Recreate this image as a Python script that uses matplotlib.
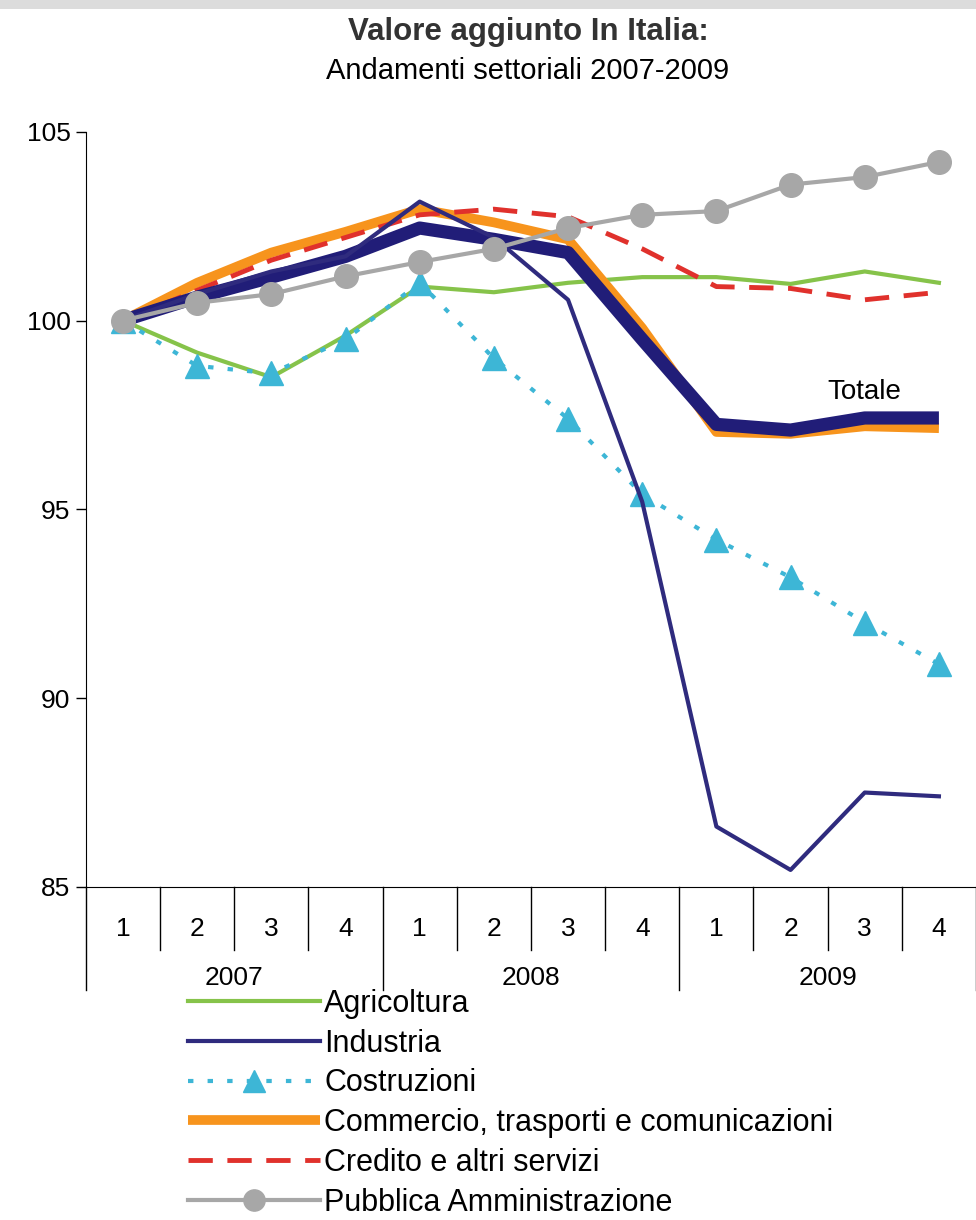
import matplotlib.pyplot as plt
import matplotlib.transforms as mtransforms

quarters = ['1', '2', '3', '4'] * 3
years = ['2007', '2008', '2009']

agricoltura = [100.0, 99.15, 98.5, 99.6, 100.9, 100.75, 101.0, 101.15, 101.15, 100.97, 101.3, 101.0]
industria = [100.0, 100.7, 101.3, 101.7, 103.15, 102.2, 100.55, 95.2, 86.6, 85.45, 87.5, 87.4]
costruzioni = [100.0, 98.8, 98.6, 99.5, 101.0, 99.0, 97.4, 95.4, 94.2, 93.2, 92.0, 90.9]
commercio = [100.0, 101.0, 101.8, 102.35, 102.95, 102.6, 102.15, 99.8, 97.05, 97.0, 97.2, 97.15]
credito = [100.0, 100.8, 101.6, 102.2, 102.8, 102.95, 102.75, 101.9, 100.9, 100.85, 100.55, 100.75]
pubblica = [100.0, 100.47, 100.7, 101.17, 101.55, 101.9, 102.45, 102.8, 102.9, 103.6, 103.8, 104.2]
totale = [100.0, 100.62, 101.15, 101.7, 102.45, 102.15, 101.8, 99.5, 97.25, 97.1, 97.42, 97.42]

plt.rcParams['font.family'] = ['Liberation Sans', 'DejaVu Sans']

fig = plt.figure(figsize=(9.76, 12.2), dpi=100)
ax = fig.add_axes([0.088, 0.273, 0.912, 0.619])
x = list(range(len(quarters)))

ax.plot(x, agricoltura, color='#86c34a', lw=3, label='Agricoltura', zorder=2)
ax.plot(x, costruzioni, color='#3db6d6', lw=3, ls=(0, (1.3, 3.4)), marker='^',
        ms=17, mec='#3db6d6', label='Costruzioni', zorder=3)
ax.plot(x, commercio, color='#f7941d', lw=7, label='Commercio, trasporti e comunicazioni',
        zorder=4, solid_capstyle='butt')
ax.plot(x, credito, color='#e0312c', lw=3.5, ls=(0, (5, 3)),
        label='Credito e altri servizi', zorder=5)
ax.plot(x, industria, color='#2f2b7e', lw=3, label='Industria', zorder=6)
ax.plot(x, totale, color='#211d78', lw=9.5, zorder=5.5, solid_capstyle='butt')
ax.plot(x, pubblica, color='#a7a7a7', lw=3, marker='o', ms=17,
        label='Pubblica Amministrazione', zorder=7)

ax.text(10, 98.1, 'Totale', ha='center', va='center', fontsize=20)

ax.set_xlim(-0.5, 11.5)
ax.set_ylim(85, 105)
ax.set_yticks([85, 90, 95, 100, 105])
ax.tick_params(axis='y', labelsize=19, length=7, width=1, pad=4)
ax.set_xticks(x)
ax.set_xticklabels(quarters)
ax.tick_params(axis='x', labelsize=19, length=0, pad=22)
for s in ['top', 'right']:
    ax.spines[s].set_visible(False)

trans = mtransforms.blended_transform_factory(ax.transData, ax.transAxes)
for k in range(1, 12):
    if k % 4 == 0:
        continue
    ax.plot([k - 0.5, k - 0.5], [0, -0.083], color='black', lw=1,
            transform=trans, clip_on=False)
for k in [0, 4, 8, 12]:
    ax.plot([k - 0.5, k - 0.5], [0, -0.137], color='black', lw=1,
            transform=trans, clip_on=False)
for i, yr in enumerate(years):
    ax.text(i * 4 + 1.5, -0.12, yr, transform=trans, ha='center', va='center', fontsize=19)

# ordine della legenda come nell'originale
handles, labels = ax.get_legend_handles_labels()
order = ['Agricoltura', 'Industria', 'Costruzioni', 'Commercio, trasporti e comunicazioni',
         'Credito e altri servizi', 'Pubblica Amministrazione']
hd = dict(zip(labels, handles))
fig.legend([hd[o] for o in order], order, loc='upper left', bbox_to_anchor=(0.193, 0.1895),
           frameon=False, fontsize=22, handlelength=4.3, handletextpad=0.15,
           labelspacing=0.32, borderpad=0, borderaxespad=0, markerscale=0.9)

fig.text(0.541, 0.974, 'Valore aggiunto In Italia:', ha='center', va='center',
         fontsize=22.5, fontweight='bold', color='#333333')
fig.text(0.541, 0.942, 'Andamenti settoriali 2007-2009', ha='center', va='center', fontsize=21)
fig.add_artist(plt.Rectangle((0, 0.993), 1, 0.007, transform=fig.transFigure,
                             color='#dcdcdc', lw=0))

fig.savefig('out.png', dpi=100)
